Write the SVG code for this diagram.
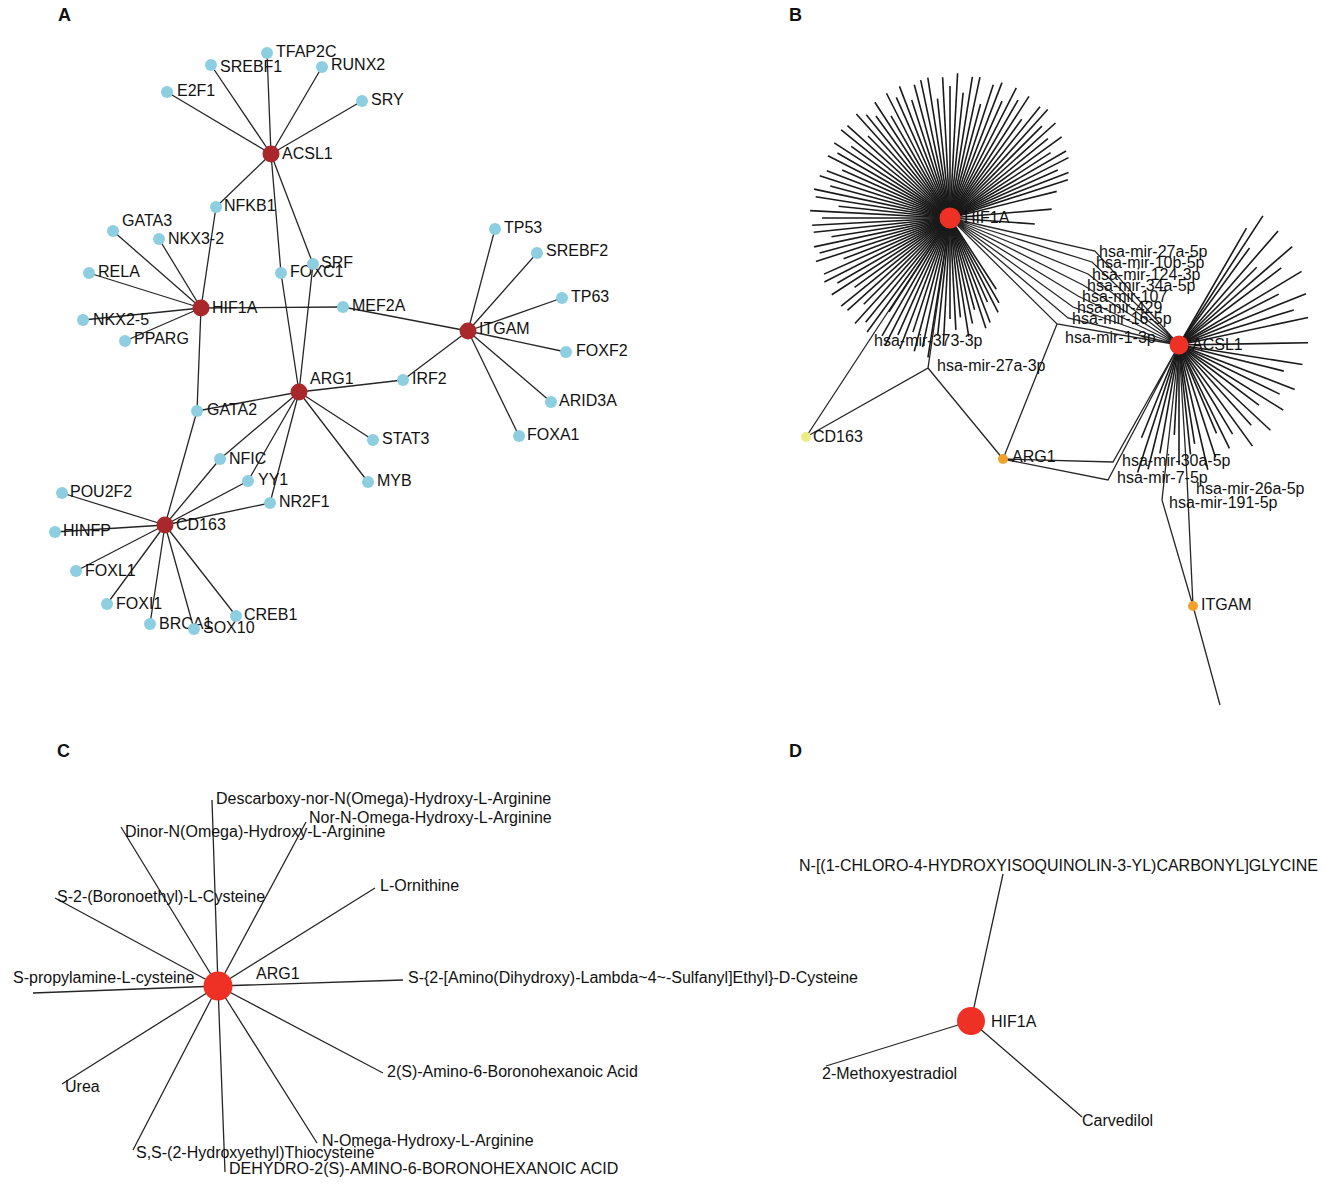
<svg xmlns="http://www.w3.org/2000/svg" width="1325" height="1185" viewBox="0 0 1325 1185">
<style>
.e{stroke:#262626;stroke-width:1.3;fill:none}
.s{stroke:#1a1a1a;stroke-width:1.6;fill:none}
.t{font-family:"Liberation Sans",Arial,sans-serif;font-size:16px;fill:#111}
.pl{font-family:"Liberation Sans",Arial,sans-serif;font-size:18px;font-weight:bold;fill:#111}
.r{fill:#A8282B}.c{fill:#8DCFE0}.R{fill:#EE3124}.y{fill:#ECEC86}.o{fill:#F4A12C}
</style>
<rect width="1325" height="1185" fill="#fff"/>
<g id="panel-labels">
<text class="pl" x="58" y="21">A</text><text class="pl" x="789" y="21">B</text>
<text class="pl" x="57" y="757">C</text><text class="pl" x="789" y="757">D</text>
</g>
<g id="connectors">
<g id="edges-A" class="e">
<path d="M271 154L267 53M271 154L211 65M271 154L322 67M271 154L167 92M271 154L362 101M271 154L216 207M271 154L281 273M271 154L313 264"/>
<path d="M201 308L216 207M201 308L113 231M201 308L159 239M201 308L89 273M201 308L83 320M201 308L125 341M201 308L343 307M201 308L197 411"/>
<path d="M468 331L343 307M468 331L495 229M468 331L537 253M468 331L562 298M468 331L566 352M468 331L551 402M468 331L519 436M468 331L403 380"/>
<path d="M299 392L403 380M299 392L281 273M299 392L313 264M299 392L197 411M299 392L373 440M299 392L368 482M299 392L220 459M299 392L248 481M299 392L270 503"/>
<path d="M165 525L197 411M165 525L220 459M165 525L248 481M165 525L270 503M165 525L62 493M165 525L55 532M165 525L76 571M165 525L107 604M165 525L150 624M165 525L194 629M165 525L236 616"/>
</g>
<g id="edges-B" class="e">
<path d="M806 437L878 327L950 218M806 437L928 368L950 218M928 368L1003 459"/>
<path d="M950 218L1057 324L1179 345M1057 324L1003 459"/>
<path d="M950 218L1095 251L1179 345M950 218L1092 262L1179 345M950 218L1088 274L1179 345M950 218L1083 285L1179 345M950 218L1078 296L1179 345M950 218L1073 307L1179 345M950 218L1068 318L1179 345"/>
<path d="M1003 459L1113 462L1179 345M1003 459L1108 480L1179 345"/>
<path d="M1179 345L1162 500L1193 606L1220 705M1179 345L1187 478L1193 606"/>
</g>
<g id="spokes-HIF1A" class="s" transform="translate(950 218)">
<path d="M0 0H85" transform="rotate(57)"/><path d="M0 0H98" transform="rotate(60)"/><path d="M0 0H106" transform="rotate(63)"/><path d="M0 0H92" transform="rotate(66)"/><path d="M0 0H112" transform="rotate(69)"/><path d="M0 0H116" transform="rotate(72)"/><path d="M0 0H95" transform="rotate(75)"/><path d="M0 0H108" transform="rotate(78)"/><path d="M0 0H120" transform="rotate(81)"/><path d="M0 0H100" transform="rotate(84)"/><path d="M0 0H112" transform="rotate(87)"/><path d="M0 0H101" transform="rotate(90)"/><path d="M0 0H128" transform="rotate(93)"/><path d="M0 0H118" transform="rotate(96)"/><path d="M0 0H141" transform="rotate(99)"/><path d="M0 0H132" transform="rotate(102)"/><path d="M0 0H138" transform="rotate(105)"/><path d="M0 0H120" transform="rotate(108)"/><path d="M0 0H140" transform="rotate(111)"/><path d="M0 0H128" transform="rotate(114)"/><path d="M0 0H143" transform="rotate(117)"/><path d="M0 0H136" transform="rotate(120)"/><path d="M0 0H112" transform="rotate(123)"/><path d="M0 0H141" transform="rotate(126)"/><path d="M0 0H134" transform="rotate(129)"/><path d="M0 0H142" transform="rotate(132)"/><path d="M0 0H122" transform="rotate(135)"/><path d="M0 0H138" transform="rotate(138)"/><path d="M0 0H140" transform="rotate(141)"/><path d="M0 0H118" transform="rotate(144)"/><path d="M0 0H141" transform="rotate(147)"/><path d="M0 0H130" transform="rotate(150)"/><path d="M0 0H141" transform="rotate(153)"/><path d="M0 0H138" transform="rotate(156)"/><path d="M0 0H114" transform="rotate(159)"/><path d="M0 0H141" transform="rotate(162)"/><path d="M0 0H135" transform="rotate(165)"/><path d="M0 0H139" transform="rotate(168)"/><path d="M0 0H120" transform="rotate(171)"/><path d="M0 0H137" transform="rotate(174)"/><path d="M0 0H138" transform="rotate(177)"/><path d="M0 0H128" transform="rotate(180)"/><path d="M0 0H140" transform="rotate(183)"/><path d="M0 0H112" transform="rotate(186)"/><path d="M0 0H136" transform="rotate(189)"/><path d="M0 0H139" transform="rotate(192)"/><path d="M0 0H124" transform="rotate(195)"/><path d="M0 0H137" transform="rotate(198)"/><path d="M0 0H132" transform="rotate(201)"/><path d="M0 0H118" transform="rotate(204)"/><path d="M0 0H137" transform="rotate(207)"/><path d="M0 0H130" transform="rotate(210)"/><path d="M0 0H138" transform="rotate(213)"/><path d="M0 0H122" transform="rotate(216)"/><path d="M0 0H140" transform="rotate(219)"/><path d="M0 0H138" transform="rotate(222)"/><path d="M0 0H116" transform="rotate(225)"/><path d="M0 0H140" transform="rotate(228)"/><path d="M0 0H133" transform="rotate(231)"/><path d="M0 0H126" transform="rotate(234)"/><path d="M0 0H138" transform="rotate(237)"/><path d="M0 0H118" transform="rotate(240)"/><path d="M0 0H140" transform="rotate(243)"/><path d="M0 0H132" transform="rotate(246)"/><path d="M0 0H141" transform="rotate(249)"/><path d="M0 0H124" transform="rotate(252)"/><path d="M0 0H138" transform="rotate(255)"/><path d="M0 0H141" transform="rotate(258)"/><path d="M0 0H142" transform="rotate(261)"/><path d="M0 0H120" transform="rotate(264)"/><path d="M0 0H141" transform="rotate(267)"/><path d="M0 0H132" transform="rotate(270)"/><path d="M0 0H145" transform="rotate(273)"/><path d="M0 0H126" transform="rotate(276)"/><path d="M0 0H143" transform="rotate(279)"/><path d="M0 0H144" transform="rotate(282)"/><path d="M0 0H118" transform="rotate(285)"/><path d="M0 0H140" transform="rotate(288)"/><path d="M0 0H145" transform="rotate(291)"/><path d="M0 0H128" transform="rotate(294)"/><path d="M0 0H146" transform="rotate(297)"/><path d="M0 0H136" transform="rotate(300)"/><path d="M0 0H145" transform="rotate(303)"/><path d="M0 0H122" transform="rotate(306)"/><path d="M0 0H143" transform="rotate(309)"/><path d="M0 0H146" transform="rotate(312)"/><path d="M0 0H130" transform="rotate(315)"/><path d="M0 0H142" transform="rotate(318)"/><path d="M0 0H126" transform="rotate(321)"/><path d="M0 0H138" transform="rotate(324)"/><path d="M0 0H120" transform="rotate(327)"/><path d="M0 0H134" transform="rotate(330)"/><path d="M0 0H133" transform="rotate(333)"/><path d="M0 0H118" transform="rotate(336)"/><path d="M0 0H127" transform="rotate(339)"/><path d="M0 0H124" transform="rotate(342)"/><path d="M0 0H110" transform="rotate(346)"/><path d="M0 0H102" transform="rotate(355)"/><path d="M0 0H85" transform="rotate(364)"/>
</g>
<g id="spokes-ACSL1" class="s" transform="translate(1179 345)">
<path d="M0 0H154" transform="rotate(-57)"/><path d="M0 0H135" transform="rotate(-60)"/><path d="M0 0H120" transform="rotate(-54)"/><path d="M0 0H151" transform="rotate(-49)"/><path d="M0 0H110" transform="rotate(-45)"/><path d="M0 0H150" transform="rotate(-41)"/><path d="M0 0H128" transform="rotate(-37)"/><path d="M0 0H143" transform="rotate(-31)"/><path d="M0 0H112" transform="rotate(-27)"/><path d="M0 0H137" transform="rotate(-22)"/><path d="M0 0H120" transform="rotate(-17)"/><path d="M0 0H132" transform="rotate(-12)"/><path d="M0 0H129" transform="rotate(-1)"/><path d="M0 0H125" transform="rotate(9)"/><path d="M0 0H108" transform="rotate(14)"/><path d="M0 0H124" transform="rotate(21)"/><path d="M0 0H112" transform="rotate(26)"/><path d="M0 0H123" transform="rotate(32)"/><path d="M0 0H100" transform="rotate(37)"/><path d="M0 0H125" transform="rotate(43)"/><path d="M0 0H108" transform="rotate(48)"/><path d="M0 0H125" transform="rotate(54)"/><path d="M0 0H104" transform="rotate(59)"/><path d="M0 0H115" transform="rotate(64)"/><path d="M0 0H96" transform="rotate(67)"/><path d="M0 0H118" transform="rotate(72)"/><path d="M0 0H128" transform="rotate(77)"/><path d="M0 0H100" transform="rotate(81)"/><path d="M0 0H110" transform="rotate(84)"/><path d="M0 0H120" transform="rotate(90)"/><path d="M0 0H90" transform="rotate(93)"/><path d="M0 0H110" transform="rotate(100)"/><path d="M0 0H128" transform="rotate(104)"/><path d="M0 0H134" transform="rotate(108)"/><path d="M0 0H100" transform="rotate(112)"/>
</g>
<g id="edges-C" class="e">
<path d="M218 986L212 800M218 986L306 822M218 986L121 827M218 986L375 888M218 986L55 898M218 986L33 993M218 986L403 980M218 986L383 1073M218 986L62 1084M218 986L317 1143M218 986L133 1150M218 986L225 1172"/>
</g>
<g id="edges-D" class="e">
<path d="M971 1021L1003 874M971 1021L826 1066M971 1021L1082 1117"/>
</g>
</g>
<g id="nodes-A">
<g id="A-ACSL1"><circle class="r" cx="271" cy="154" r="8.5"/><text class="t" x="282" y="159">ACSL1</text></g>
<g id="A-TFAP2C"><circle class="c" cx="267" cy="53" r="6"/><text class="t" x="276" y="57">TFAP2C</text></g>
<g id="A-SREBF1"><circle class="c" cx="211" cy="65" r="6"/><text class="t" x="220" y="72">SREBF1</text></g>
<g id="A-RUNX2"><circle class="c" cx="322" cy="67" r="6"/><text class="t" x="331" y="70">RUNX2</text></g>
<g id="A-E2F1"><circle class="c" cx="167" cy="92" r="6"/><text class="t" x="177" y="96">E2F1</text></g>
<g id="A-SRY"><circle class="c" cx="362" cy="101" r="6"/><text class="t" x="371" y="105">SRY</text></g>
<g id="A-NFKB1"><circle class="c" cx="216" cy="207" r="6"/><text class="t" x="224" y="211">NFKB1</text></g>
<g id="A-GATA3"><circle class="c" cx="113" cy="231" r="6"/><text class="t" x="122" y="226">GATA3</text></g>
<g id="A-NKX3-2"><circle class="c" cx="159" cy="239" r="6"/><text class="t" x="168" y="244">NKX3-2</text></g>
<g id="A-RELA"><circle class="c" cx="89" cy="273" r="6"/><text class="t" x="98" y="277">RELA</text></g>
<g id="A-HIF1A"><circle class="r" cx="201" cy="308" r="8.5"/><text class="t" x="212" y="313">HIF1A</text></g>
<g id="A-NKX2-5"><circle class="c" cx="83" cy="320" r="6"/><text class="t" x="93" y="325">NKX2-5</text></g>
<g id="A-PPARG"><circle class="c" cx="125" cy="341" r="6"/><text class="t" x="134" y="344">PPARG</text></g>
<g id="A-FOXC1"><circle class="c" cx="281" cy="273" r="6"/><text class="t" x="290" y="277">FOXC1</text></g>
<g id="A-SRF"><circle class="c" cx="313" cy="264" r="6"/><text class="t" x="321" y="268">SRF</text></g>
<g id="A-MEF2A"><circle class="c" cx="343" cy="307" r="6"/><text class="t" x="352" y="311">MEF2A</text></g>
<g id="A-ITGAM"><circle class="r" cx="468" cy="331" r="8.5"/><text class="t" x="479" y="334">ITGAM</text></g>
<g id="A-TP53"><circle class="c" cx="495" cy="229" r="6"/><text class="t" x="504" y="233">TP53</text></g>
<g id="A-SREBF2"><circle class="c" cx="537" cy="253" r="6"/><text class="t" x="546" y="256">SREBF2</text></g>
<g id="A-TP63"><circle class="c" cx="562" cy="298" r="6"/><text class="t" x="571" y="302">TP63</text></g>
<g id="A-FOXF2"><circle class="c" cx="566" cy="352" r="6"/><text class="t" x="576" y="356">FOXF2</text></g>
<g id="A-ARID3A"><circle class="c" cx="551" cy="402" r="6"/><text class="t" x="559" y="406">ARID3A</text></g>
<g id="A-FOXA1"><circle class="c" cx="519" cy="436" r="6"/><text class="t" x="527" y="440">FOXA1</text></g>
<g id="A-IRF2"><circle class="c" cx="403" cy="380" r="6"/><text class="t" x="412" y="384">IRF2</text></g>
<g id="A-ARG1"><circle class="r" cx="299" cy="392" r="8.5"/><text class="t" x="310" y="384">ARG1</text></g>
<g id="A-STAT3"><circle class="c" cx="373" cy="440" r="6"/><text class="t" x="382" y="444">STAT3</text></g>
<g id="A-MYB"><circle class="c" cx="368" cy="482" r="6"/><text class="t" x="377" y="486">MYB</text></g>
<g id="A-GATA2"><circle class="c" cx="197" cy="411" r="6"/><text class="t" x="207" y="415">GATA2</text></g>
<g id="A-NFIC"><circle class="c" cx="220" cy="459" r="6"/><text class="t" x="229" y="464">NFIC</text></g>
<g id="A-YY1"><circle class="c" cx="248" cy="481" r="6"/><text class="t" x="258" y="485">YY1</text></g>
<g id="A-NR2F1"><circle class="c" cx="270" cy="503" r="6"/><text class="t" x="279" y="507">NR2F1</text></g>
<g id="A-CD163"><circle class="r" cx="165" cy="525" r="8.5"/><text class="t" x="176" y="530">CD163</text></g>
<g id="A-POU2F2"><circle class="c" cx="62" cy="493" r="6"/><text class="t" x="70" y="497">POU2F2</text></g>
<g id="A-HINFP"><circle class="c" cx="55" cy="532" r="6"/><text class="t" x="63" y="536">HINFP</text></g>
<g id="A-FOXL1"><circle class="c" cx="76" cy="571" r="6"/><text class="t" x="85" y="576">FOXL1</text></g>
<g id="A-FOXI1"><circle class="c" cx="107" cy="604" r="6"/><text class="t" x="116" y="609">FOXI1</text></g>
<g id="A-BRCA1"><circle class="c" cx="150" cy="624" r="6"/><text class="t" x="159" y="629">BRCA1</text></g>
<g id="A-SOX10"><circle class="c" cx="194" cy="629" r="6"/><text class="t" x="203" y="633">SOX10</text></g>
<g id="A-CREB1"><circle class="c" cx="236" cy="616" r="6"/><text class="t" x="244" y="620">CREB1</text></g>
</g>
<g id="nodes-B">
<g id="B-HIF1A"><circle class="R" cx="950" cy="218" r="10.5"/><text class="t" x="964" y="223">HIF1A</text></g>
<g id="B-ACSL1"><circle class="R" cx="1179" cy="345" r="9.5"/><text class="t" x="1192" y="350">ACSL1</text></g>
<g id="B-CD163"><circle class="y" cx="806" cy="437" r="5"/><text class="t" x="813" y="442">CD163</text></g>
<g id="B-ARG1"><circle class="o" cx="1003" cy="459" r="5"/><text class="t" x="1012" y="462">ARG1</text></g>
<g id="B-ITGAM"><circle class="o" cx="1193" cy="606" r="5"/><text class="t" x="1201" y="610">ITGAM</text></g>
<g id="B-mir-373-3p"><text class="t" x="874" y="346">hsa-mir-373-3p</text></g>
<g id="B-mir-27a-3p"><text class="t" x="937" y="371">hsa-mir-27a-3p</text></g>
<g id="B-mir-27a-5p"><text class="t" x="1099" y="257">hsa-mir-27a-5p</text></g>
<g id="B-mir-10b-5p"><text class="t" x="1096" y="268">hsa-mir-10b-5p</text></g>
<g id="B-mir-124-3p"><text class="t" x="1092" y="280">hsa-mir-124-3p</text></g>
<g id="B-mir-34a-5p"><text class="t" x="1087" y="291">hsa-mir-34a-5p</text></g>
<g id="B-mir-107"><text class="t" x="1082" y="302">hsa-mir-107</text></g>
<g id="B-mir-429"><text class="t" x="1077" y="313">hsa-mir-429</text></g>
<g id="B-mir-16-5p"><text class="t" x="1072" y="324">hsa-mir-16-5p</text></g>
<g id="B-mir-1-3p"><text class="t" x="1065" y="343">hsa-mir-1-3p</text></g>
<g id="B-mir-30a-5p"><text class="t" x="1122" y="466">hsa-mir-30a-5p</text></g>
<g id="B-mir-7-5p"><text class="t" x="1117" y="483">hsa-mir-7-5p</text></g>
<g id="B-mir-26a-5p"><text class="t" x="1196" y="494">hsa-mir-26a-5p</text></g>
<g id="B-mir-191-5p"><text class="t" x="1169" y="508">hsa-mir-191-5p</text></g>
</g>
<g id="nodes-C">
<g id="C-ARG1"><circle class="R" cx="218" cy="986" r="14.5"/><text class="t" x="256" y="979">ARG1</text></g>
<g id="C-1"><text class="t" x="216" y="804">Descarboxy-nor-N(Omega)-Hydroxy-L-Arginine</text></g>
<g id="C-2"><text class="t" x="309" y="823">Nor-N-Omega-Hydroxy-L-Arginine</text></g>
<g id="C-3"><text class="t" x="125" y="837">Dinor-N(Omega)-Hydroxy-L-Arginine</text></g>
<g id="C-4"><text class="t" x="380" y="891">L-Ornithine</text></g>
<g id="C-5"><text class="t" x="57" y="902">S-2-(Boronoethyl)-L-Cysteine</text></g>
<g id="C-6"><text class="t" x="13" y="983">S-propylamine-L-cysteine</text></g>
<g id="C-7"><text class="t" x="408" y="983">S-{2-[Amino(Dihydroxy)-Lambda~4~-Sulfanyl]Ethyl}-D-Cysteine</text></g>
<g id="C-8"><text class="t" x="387" y="1077">2(S)-Amino-6-Boronohexanoic Acid</text></g>
<g id="C-9"><text class="t" x="65" y="1092">Urea</text></g>
<g id="C-10"><text class="t" x="322" y="1146">N-Omega-Hydroxy-L-Arginine</text></g>
<g id="C-11"><text class="t" x="136" y="1158">S,S-(2-Hydroxyethyl)Thiocysteine</text></g>
<g id="C-12"><text class="t" x="229" y="1174">DEHYDRO-2(S)-AMINO-6-BORONOHEXANOIC ACID</text></g>
</g>
<g id="nodes-D">
<g id="D-HIF1A"><circle class="R" cx="971" cy="1021" r="14"/><text class="t" x="991" y="1027">HIF1A</text></g>
<g id="D-1"><text class="t" x="799" y="871">N-[(1-CHLORO-4-HYDROXYISOQUINOLIN-3-YL)CARBONYL]GLYCINE</text></g>
<g id="D-2"><text class="t" x="822" y="1079">2-Methoxyestradiol</text></g>
<g id="D-3"><text class="t" x="1082" y="1126">Carvedilol</text></g>
</g>
</svg>
